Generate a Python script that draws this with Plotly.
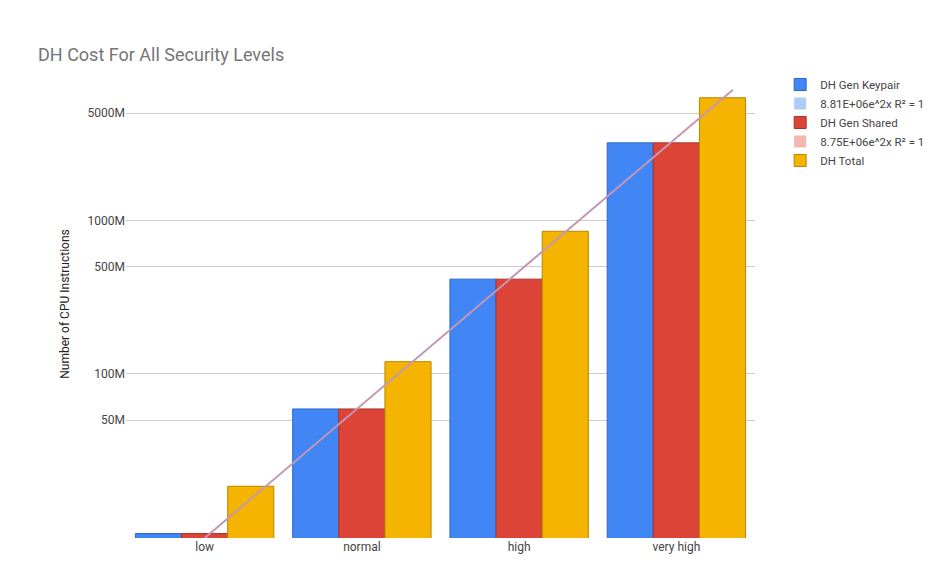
import plotly.graph_objects as go

levels = ["low", "normal", "high", "very high"]
gen_keypair = [9.1e6, 59e6, 414e6, 3.2e9]
gen_shared = [9.1e6, 59e6, 414e6, 3.2e9]
dh_total = [18.5e6, 120e6, 849e6, 6.3e9]

# trendline as drawn (end points)
trend_x = [0, 3.36]
trend_y = [8.5e6, 7.1e9]

tick_vals = [50e6, 100e6, 500e6, 1000e6, 5000e6]
tick_text = ["50M", "100M", "500M", "1000M", "5000M"]


def legend_square(name, color):
    return go.Scatter(x=[None], y=[None], mode="markers", name=name,
                      marker=dict(symbol="square", size=12, color=color))


fig = go.Figure()
fig.add_trace(go.Bar(x=levels, y=gen_keypair, name="DH Gen Keypair", marker_color="#4285F4",
                     marker_line=dict(color="#2a66c9", width=1)))
fig.add_trace(legend_square("8.81E+06e^2x R² = 1", "#aecbfa"))
fig.add_trace(go.Bar(x=levels, y=gen_shared, name="DH Gen Shared", marker_color="#DB4437",
                     marker_line=dict(color="#a8322a", width=1)))
fig.add_trace(legend_square("8.75E+06e^2x R² = 1", "#f4b6b0"))
fig.add_trace(go.Bar(x=levels, y=dh_total, name="DH Total", marker_color="#F4B400",
                     marker_line=dict(color="#b88700", width=1)))
fig.add_trace(go.Scatter(x=trend_x, y=trend_y, mode="lines", xaxis="x2", showlegend=False,
                         line=dict(color="#c497b5", width=2), hoverinfo="skip"))

fig.update_layout(
    title=dict(text="DH Cost For All Security Levels", x=0.032, y=0.93,
               font=dict(size=18, color="#757575")),
    width=938, height=580,
    margin=dict(l=118, r=191, t=62, b=50),
    paper_bgcolor="white", plot_bgcolor="white",
    font=dict(family="Roboto, Arial", size=12, color="#444"),
    barmode="group", bargap=0.12, bargroupgap=0,
    xaxis=dict(showgrid=False, showline=False, ticks="", range=[-0.5, 3.5]),
    xaxis2=dict(overlaying="x", range=[-0.5, 3.5], visible=False),
    yaxis=dict(type="log", range=[6.93, 9.98], tickvals=tick_vals, ticktext=tick_text,
               gridcolor="#cccccc", zeroline=False,
               title=dict(text="Number of CPU Instructions", font=dict(size=12, color="#222"))),
    legend=dict(x=1.04, y=1.0, font=dict(size=11.5, color="#444"), tracegroupgap=8),
)
fig.write_html("out.html")
